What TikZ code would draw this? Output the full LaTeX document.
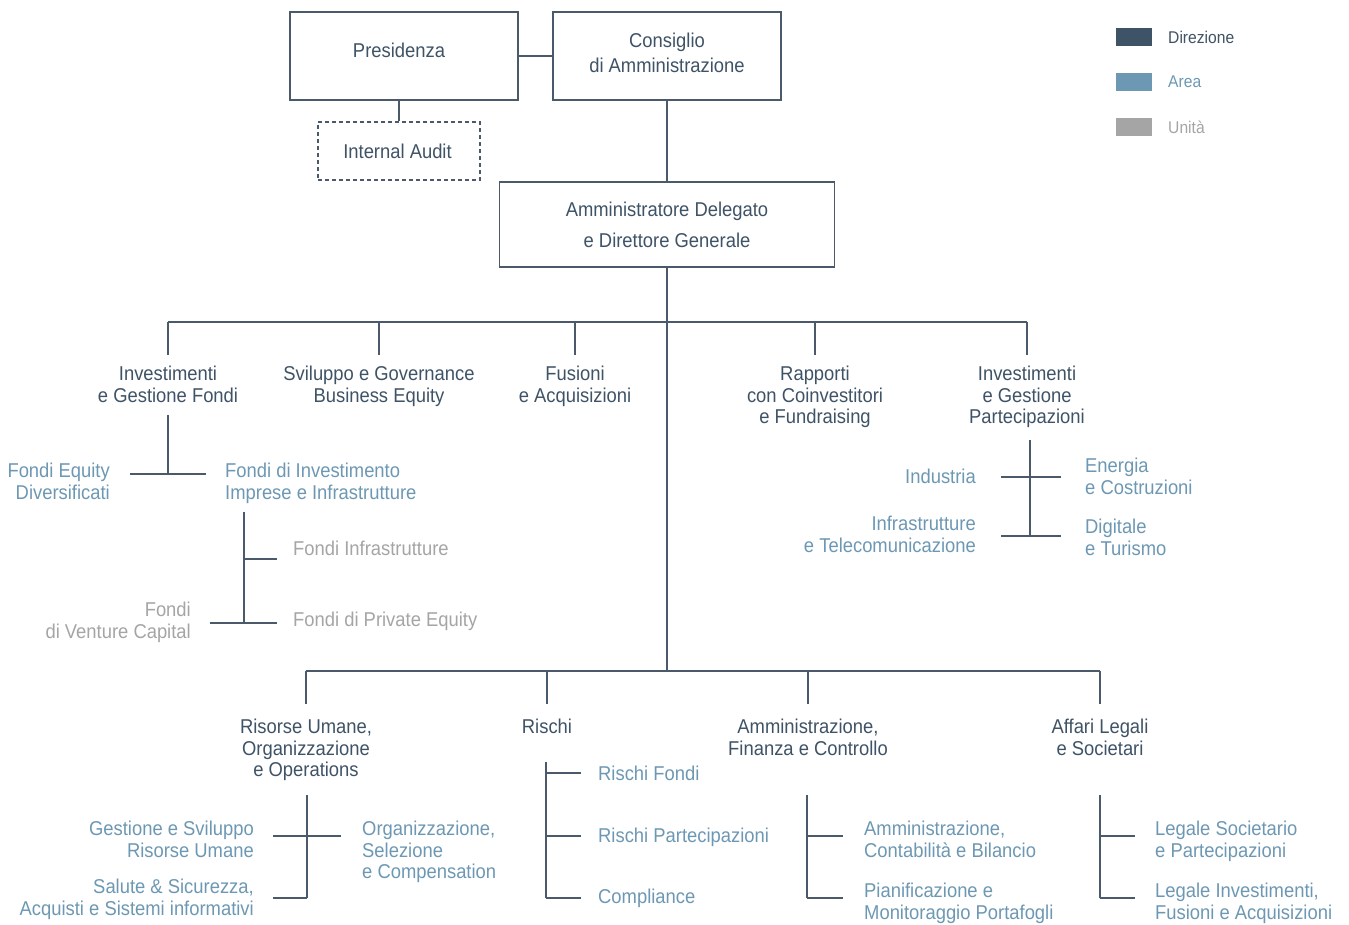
\documentclass[tikz,border=0pt]{standalone}
\usepackage{fontspec}
\setmainfont{Liberation Sans}[FakeStretch=0.92]
\definecolor{dir}{HTML}{3F5366}
\definecolor{area}{HTML}{6D98B4}
\definecolor{unit}{HTML}{A5A5A5}
\definecolor{ln}{HTML}{4A5A6A}
\begin{document}
\begin{tikzpicture}[x=1pt,y=-1pt,
  font=\fontsize{20}{21.5}\selectfont,
  conn/.style={draw=ln, line width=1.4pt},
  box/.style={draw=ln, line width=1.4pt, text=dir, align=center, inner sep=0},
  lab/.style={inner sep=0, align=center, text=dir, anchor=north},
  arear/.style={inner sep=0, align=right, text=area, anchor=north east},
  areal/.style={inner sep=0, align=left, text=area, anchor=north west},
  unitr/.style={inner sep=0, align=right, text=unit, anchor=north east},
  unitl/.style={inner sep=0, align=left, text=unit, anchor=north west},
  legsq/.style={minimum width=36pt, minimum height=18pt, inner sep=0},
  legtx/.style={inner sep=0, anchor=west, font=\fontsize{17}{19}\selectfont}]
\useasboundingbox (0,0) rectangle (1349,925);
\fill[white] (0,0) rectangle (1349,925);

% top boxes
\node[box, minimum width=228pt, minimum height=88pt] (pres) at (404,56) {Presidenza\rule[-12pt]{10pt}{0pt}};
\node[box, minimum width=228pt, minimum height=88pt] (cda) at (667,56) {Consiglio\\[3.5pt]di Amministrazione\rule[-6pt]{0pt}{6pt}};
\node[box, dash pattern=on 4pt off 3pt, minimum width=162pt, minimum height=58pt] (audit) at (399,151) {Internal Audit\rule{3pt}{0pt}};
\node[box, minimum width=335pt, minimum height=85pt] (ad) at (667,224.5) {Amministratore Delegato\\[9.5pt]e Direttore Generale};

\draw[conn] (pres.east) -- (cda.west);
\draw[conn] (audit.north |- pres.south) -- (audit.north);
\draw[conn] (cda.south) -- (ad.north);

% trunk and buses
\coordinate (tb) at (667,671);
\draw[conn] (ad.south) -- (tb);
\coordinate (u1) at (168,322);
\coordinate (u2) at (379,322);
\coordinate (u3) at (575,322);
\coordinate (u4) at (815,322);
\coordinate (u5) at (1027,322);
\draw[conn] (u1) -- (u5);
\coordinate (l1) at (306,671);
\coordinate (l2) at (547,671);
\coordinate (l3) at (808,671);
\coordinate (l4) at (1100,671);
\draw[conn] (l1) -- (l4);

% upper labels
\node[lab] (ifg) at (168,366) {Investimenti\\e Gestione Fondi};
\node[lab] (sgb) at (379,366) {Sviluppo e Governance\\Business Equity};
\node[lab] (fa) at (575,366) {Fusioni\\e Acquisizioni};
\node[lab] (rcf) at (815,366) {Rapporti\\con Coinvestitori\\e Fundraising};
\node[lab] (igp) at (1027,366) {Investimenti\\e Gestione\\Partecipazioni};
\foreach \u/\n in {u1/ifg,u2/sgb,u3/fa,u4/rcf,u5/igp}
  \draw[conn, shorten >=11pt] (\u) -- (\u |- \n.north);

% lower labels
\node[lab] (rum) at (306,719) {Risorse Umane,\\Organizzazione\\e Operations};
\node[lab] (ris) at (547,719) {Rischi};
\node[lab] (afc) at (808,719) {Amministrazione,\\Finanza e Controllo};
\node[lab] (als) at (1100,719) {Affari Legali\\e Societari};
\foreach \u/\n in {l1/rum,l2/ris,l3/afc,l4/als}
  \draw[conn, shorten >=15pt] (\u) -- (\u |- \n.north);

% subtree Investimenti e Gestione Fondi
\node[arear] (fed) at (110,463) {Fondi Equity\\Diversificati};
\node[areal] (fii) at (225,463) {Fondi di Investimento\\Imprese e Infrastrutture};
\coordinate (a0) at (168,415);
\coordinate (a1) at (168,474);
\coordinate (a2) at (130,474);
\coordinate (a3) at (206,474);
\draw[conn] (a0) -- (a1);
\draw[conn] (a2) -- (a3);
\node[unitl] (fin) at (293,541) {Fondi Infrastrutture};
\node[unitl] (fpe) at (293,612) {Fondi di Private Equity};
\node[unitr] (fvc) at (191,602) {Fondi\\di Venture Capital};
\coordinate (b0) at (244,512);
\coordinate (b1) at (244,623);
\coordinate (b2) at (244,559);
\coordinate (b3) at (277,559);
\coordinate (b4) at (210,623);
\coordinate (b5) at (277,623);
\draw[conn] (b0) -- (b1);
\draw[conn] (b2) -- (b3);
\draw[conn] (b4) -- (b5);

% subtree Investimenti e Gestione Partecipazioni
\node[arear] (ind) at (976,469) {Industria};
\node[arear] (itc) at (976,516) {Infrastrutture\\e Telecomunicazione};
\node[areal] (enc) at (1085,458) {Energia\\e Costruzioni};
\node[areal] (dgt) at (1085,519) {Digitale\\e Turismo};
\coordinate (c0) at (1030,440);
\coordinate (c1) at (1030,536);
\coordinate (c2) at (1001,477);
\coordinate (c3) at (1061,477);
\coordinate (c4) at (1001,536);
\coordinate (c5) at (1061,536);
\draw[conn] (c0) -- (c1);
\draw[conn] (c2) -- (c3);
\draw[conn] (c4) -- (c5);

% subtree Risorse Umane
\node[arear] (gsr) at (254,821) {Gestione e Sviluppo\\Risorse Umane};
\node[arear] (ssa) at (254,879) {Salute \& Sicurezza,\\Acquisti e Sistemi informativi};
\node[areal] (osc) at (362,821) {Organizzazione,\\Selezione\\e Compensation};
\coordinate (r0) at (307,795);
\coordinate (r1) at (307,898);
\coordinate (r2) at (273,836);
\coordinate (r3) at (341,836);
\coordinate (r4) at (273,898);
\draw[conn] (r0) -- (r1);
\draw[conn] (r2) -- (r3);
\draw[conn] (r4) -- (r1);

% subtree Rischi
\node[areal] (rf) at (598,766) {Rischi Fondi};
\node[areal] (rp) at (598,828) {Rischi Partecipazioni};
\node[areal] (cp) at (598,889) {Compliance};
\coordinate (s0) at (546,762);
\coordinate (s1) at (546,898);
\draw[conn] (s0) -- (s1);
\foreach \y/\n in {773/sa,836/sb,898/sc}{
  \coordinate (\n0) at (546,\y);
  \coordinate (\n1) at (581,\y);
  \draw[conn] (\n0) -- (\n1);}

% subtree Amministrazione
\node[areal] (acb) at (864,821) {Amministrazione,\\Contabilità e Bilancio};
\node[areal] (pmp) at (864,883) {Pianificazione e\\Monitoraggio Portafogli};
\coordinate (t0) at (807,795);
\coordinate (t1) at (807,898);
\draw[conn] (t0) -- (t1);
\foreach \y/\n in {836/ta,898/tb}{
  \coordinate (\n0) at (807,\y);
  \coordinate (\n1) at (843,\y);
  \draw[conn] (\n0) -- (\n1);}

% subtree Affari Legali
\node[areal] (lsp) at (1155,821) {Legale Societario\\e Partecipazioni};
\node[areal] (lif) at (1155,883) {Legale Investimenti,\\Fusioni e Acquisizioni};
\coordinate (v0) at (1100,795);
\coordinate (v1) at (1100,898);
\draw[conn] (v0) -- (v1);
\foreach \y/\n in {836/va,898/vb}{
  \coordinate (\n0) at (1100,\y);
  \coordinate (\n1) at (1135,\y);
  \draw[conn] (\n0) -- (\n1);}

% legend
\node[legsq, fill=dir] (lgd) at (1134,37) {};
\node[legsq, fill=area] (lga) at (1134,82) {};
\node[legsq, fill=unit] (lgu) at (1134,127) {};
\node[legtx, text=dir] (lgdt) at (1168,37) {Direzione};
\node[legtx, text=area] (lgat) at (1168,82) {Area};
\node[legtx, text=unit] (lgut) at (1168,127) {Unità};
\end{tikzpicture}
\end{document}
